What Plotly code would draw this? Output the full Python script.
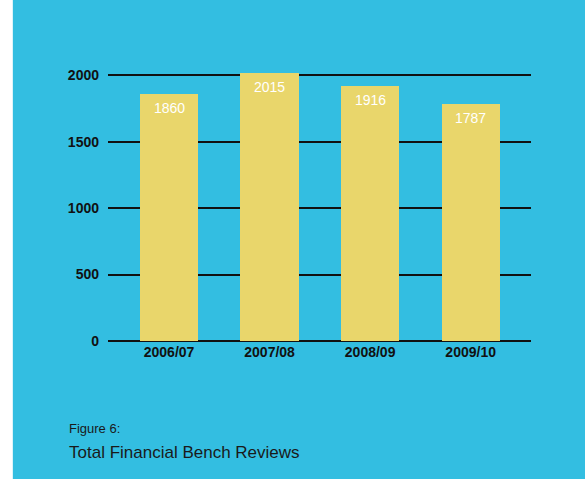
import plotly.graph_objects as go

# Financial bench reviews per year
years = ["2006/07", "2007/08", "2008/09", "2009/10"]
reviews = [1860, 2015, 1916, 1787]
y_ticks = [0, 500, 1000, 1500, 2000]

PANEL = "#33BEE1"
BAR = "#E9D66B"
FONT = "Liberation Sans, Arial, Helvetica, sans-serif"

fig = go.Figure(
    go.Bar(
        x=years,
        y=reviews,
        width=0.58,
        marker=dict(color=BAR, line=dict(width=0)),
        hoverinfo="x+y",
        cliponaxis=False,
    )
)

# Value labels just inside the top of each bar
for yr, v in zip(years, reviews):
    fig.add_annotation(
        x=yr, y=v, text=str(v), showarrow=False,
        xanchor="center", yanchor="middle", yshift=-14,
        font=dict(color="white", size=14, family=FONT),
    )

# Cyan panel behind everything
fig.add_shape(
    type="rect", xref="paper", yref="paper",
    x0=-0.225, x1=1.2, y0=-0.6, y1=1.25,
    fillcolor=PANEL, line=dict(width=0), layer="below",
)

fig.add_annotation(
    text="Figure 6:", xref="paper", yref="paper", x=-0.097, y=-0.312,
    xanchor="left", yanchor="middle", showarrow=False,
    font=dict(family=FONT, size=13, color="#1a1a1a"),
)
fig.add_annotation(
    text="Total Financial Bench Reviews", xref="paper", yref="paper", x=-0.097, y=-0.398,
    xanchor="left", yanchor="middle", showarrow=False,
    font=dict(family=FONT, size=17, color="#1a1a1a"),
)

fig.update_layout(
    width=585, height=479,
    margin=dict(l=108, r=54, t=62, b=138),
    paper_bgcolor="white",
    plot_bgcolor="rgba(0,0,0,0)",
    showlegend=False,
    bargap=0,
    xaxis=dict(
        range=[-0.607, 3.6], showgrid=False, showline=False, zeroline=False,
        ticks="", tickfont=dict(family=FONT, size=14, color="#111", weight="bold"),
        ticklabelstandoff=1,
    ),
    yaxis=dict(
        range=[0, 2100], tickvals=y_ticks, showgrid=True,
        gridcolor="#111", gridwidth=1.5, zeroline=True, zerolinecolor="#111",
        zerolinewidth=1.5, showline=False, ticks="",
        tickfont=dict(family=FONT, size=14, color="#111", weight="bold"),
        ticklabelstandoff=8,
    ),
)

fig.write_html("out.html")
